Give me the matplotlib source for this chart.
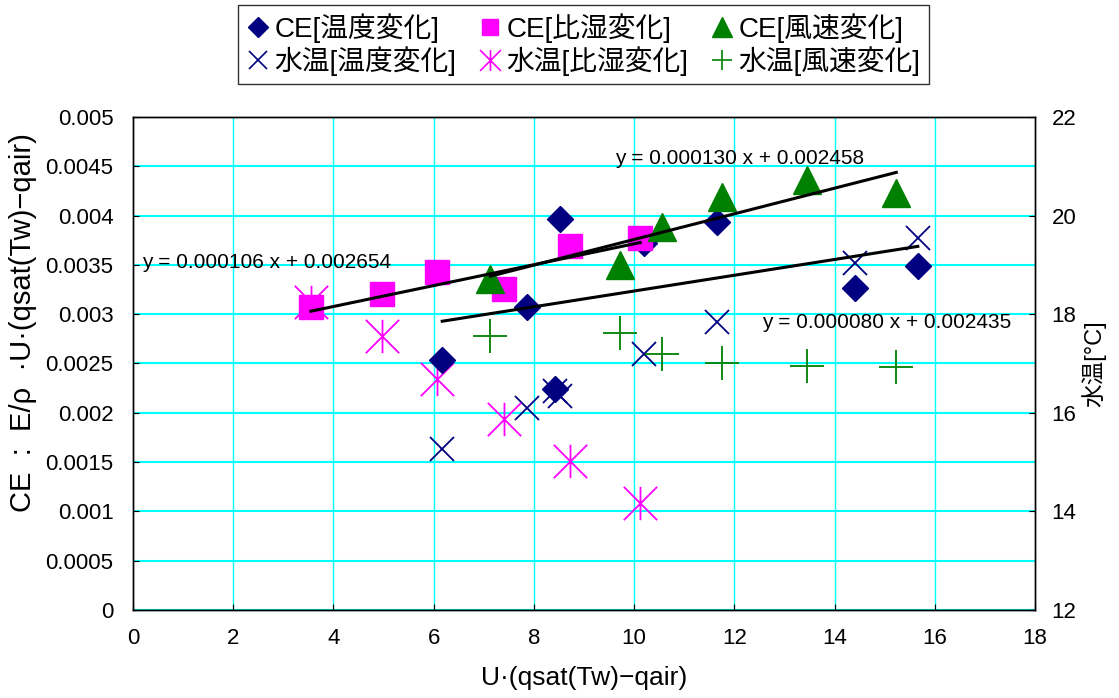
import numpy as np
import matplotlib
matplotlib.use('Agg')
import matplotlib.pyplot as plt
from matplotlib.path import Path
from matplotlib.lines import Line2D

plt.rcParams['font.family'] = ['Liberation Sans', 'Noto Sans CJK JP', 'DejaVu Sans']

# CE [温度変化]
x_temp = [6.17, 7.86, 8.42, 8.51, 10.19, 11.66, 14.41, 15.66]
ce_temp = [0.00254, 0.00307, 0.00224, 0.00397, 0.00372, 0.00394, 0.00327, 0.00349]
tw_temp = [15.26, 16.09, 16.45, 16.35, 17.19, 17.85, 19.03, 19.54]

# CE [比湿変化]
x_hum = [3.55, 4.96, 6.07, 7.41, 8.72, 10.12]
ce_hum = [0.00307, 0.00320, 0.00343, 0.00326, 0.00369, 0.00377]
tw_hum = [18.25, 17.56, 16.68, 15.87, 15.02, 14.16]

# CE [風速変化]
x_wind = [7.13, 9.72, 10.55, 11.76, 13.45, 15.23]
ce_wind = [0.00336, 0.00350, 0.00388, 0.00419, 0.00436, 0.00423]
tw_wind = [17.56, 17.62, 17.19, 17.00, 16.95, 16.93]

# trend lines (slope, intercept) as printed on the chart
fit_hum = (0.000106, 0.002654)
fit_wind = (0.000130, 0.002458)
fit_temp = (0.000080, 0.002435)

navy = '#000080'
magenta = '#FF00FF'
green = '#008000'

star = Path([(0, -1), (0, 1), (-1, -1), (1, 1), (-1, 1), (1, -1)],
            [Path.MOVETO, Path.LINETO] * 3)

fig = plt.figure(figsize=(11.19, 6.98), dpi=100)
ax = fig.add_axes([0.1189, 0.1261, 0.8061, 0.7063])
ax2 = ax.twinx()

# temperature series on right axis (drawn beneath CE markers)
ax2.plot(x_temp, tw_temp, ls='none', marker='x', ms=17, mew=1.3, color=navy)
ax2.plot(x_hum, tw_hum, ls='none', marker=star, ms=24, mew=1.3,
         mfc='none', mec=magenta)
ax2.plot(x_wind, tw_wind, ls='none', marker='+', ms=24, mew=1.3, color=green)

ax2.set_ylim(12, 22)
ax2.set_yticks(np.arange(12, 23, 2))
ax2.set_yticks(np.arange(12, 23, 1), minor=True)
ax2.tick_params(axis='y', which='major', direction='in', length=4,
                labelsize=16, pad=12)
ax2.tick_params(axis='y', which='minor', length=0)
ax2.grid(axis='y', which='both', color='#00FFFF', lw=1.5)
for xv in np.arange(2, 18, 2):
    ax2.axvline(xv, color='#00FFFF', lw=1.0, zorder=0.5)
ax2.set_ylabel('水温[°C]', fontsize=17)
ax2.yaxis.set_label_coords(1.052, 0.5)

# CE series on left axis
ax.set_zorder(ax2.get_zorder() + 1)
ax.patch.set_visible(False)
ax.plot(x_temp, ce_temp, ls='none', marker='D', ms=13, color=navy)
ax.plot(x_hum, ce_hum, ls='none', marker='s', ms=17, color=magenta)
ax.plot(x_wind, ce_wind, ls='none', marker='^', ms=20, color=green)

for xs, (a, b) in [(x_hum, fit_hum), (x_wind, fit_wind), (x_temp, fit_temp)]:
    xx = np.array([min(xs), max(xs)])
    ax.plot(xx, a * xx + b, color='black', lw=2.2)

ax.text(0.18, 0.003529, 'y = 0.000106 x + 0.002654', fontsize=15, va='center')
ax.text(9.62, 0.004584, 'y = 0.000130 x + 0.002458', fontsize=15, va='center')
ax.text(12.55, 0.002911, 'y = 0.000080 x + 0.002435', fontsize=15, va='center')

ax.set_xlim(0, 18)
ax.set_ylim(0, 0.005)
ax.set_xticks(np.arange(0, 19, 2))
yt = np.arange(0, 0.00501, 0.0005)
ax.set_yticks(yt)
ax.set_yticklabels(['0', '0.0005', '0.001', '0.0015', '0.002', '0.0025',
                    '0.003', '0.0035', '0.004', '0.0045', '0.005'])
ax.tick_params(axis='both', direction='in', length=4, labelsize=16)
ax.tick_params(axis='y', pad=14)
ax.tick_params(axis='x', pad=13)
ax.set_xlabel('U·(qsat(Tw)−qair)', fontsize=19)
ax.xaxis.set_label_coords(0.5, -0.113)
ax.set_ylabel('CE  :  E/ρ  ·U·(qsat(Tw)−qair)', fontsize=21)
ax.yaxis.set_label_coords(-0.106, 0.584)

for sp in list(ax.spines.values()) + list(ax2.spines.values()):
    sp.set_color('black')
    sp.set_linewidth(1.0)

handles = [
    Line2D([], [], ls='none', marker='D', ms=10, color=navy),
    Line2D([], [], ls='none', marker='x', ms=13, mew=1.2, color=navy),
    Line2D([], [], ls='none', marker='s', ms=12, color=magenta),
    Line2D([], [], ls='none', marker=star, ms=15, mew=1.2, mfc='none', mec=magenta),
    Line2D([], [], ls='none', marker='^', ms=14, color=green),
    Line2D([], [], ls='none', marker='+', ms=15, mew=1.2, color=green),
]
labels = ['CE[温度変化]', '水温[温度変化]', 'CE[比湿変化]', '水温[比湿変化]',
          'CE[風速変化]', '水温[風速変化]']
leg = fig.legend(handles, labels, ncol=3, loc='upper center',
                 bbox_to_anchor=(0.5215, 0.993), fontsize=20, frameon=True,
                 fancybox=False, edgecolor='black', handlelength=0.8,
                 handletextpad=0.2, columnspacing=0.8, borderpad=0.3,
                 labelspacing=0.12, borderaxespad=0)
leg.get_frame().set_linewidth(1.0)

fig.savefig('out.png', dpi=100)
